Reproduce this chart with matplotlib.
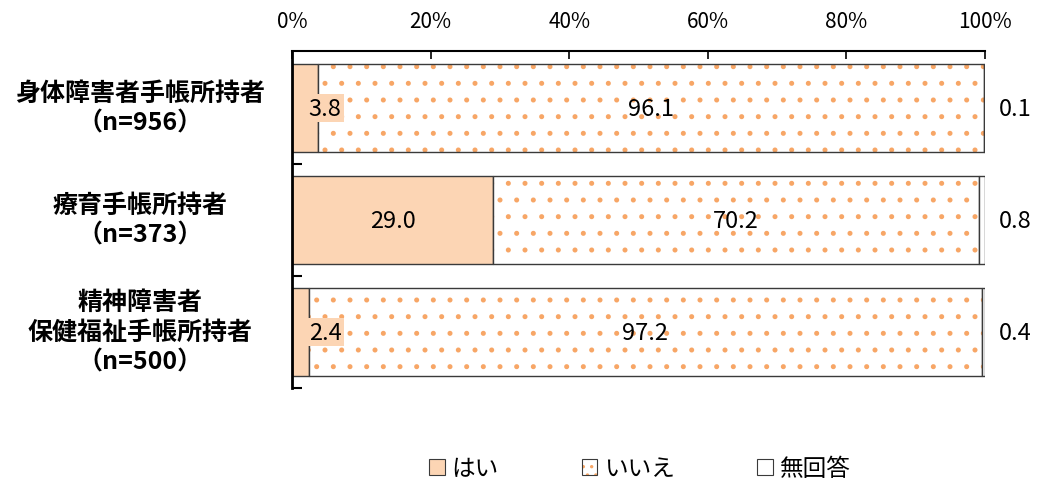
import matplotlib
matplotlib.use('Agg')
import matplotlib.pyplot as plt
import numpy as np
from matplotlib.patches import Patch

plt.rcParams['font.family'] = ['Noto Sans CJK JP', 'DejaVu Sans']
plt.rcParams['hatch.linewidth'] = 1.2

# data
groups = ['身体障害者手帳所持者\n（n=956）',
          '療育手帳所持者\n（n=373）',
          '精神障害者\n保健福祉手帳所持者\n（n=500）']
series = ['はい', 'いいえ', '無回答']
hai = [3.8, 29.0, 2.4]
iie = [96.1, 70.2, 97.2]
mukaito = [0.1, 0.8, 0.4]
xticks = [0, 20, 40, 60, 80, 100]

PEACH = '#FCD5B4'
DOT = '#F7A666'
EDGE = '#3a3a3a'

fig = plt.figure(figsize=(10.38, 4.85), dpi=100)
ax = fig.add_axes([292 / 1038, 1 - 389 / 485, (985 - 292) / 1038, (389 - 52) / 485])

y = np.arange(len(groups))
h = 0.78

# はい
ax.barh(y, hai, height=h, color=PEACH, edgecolor=EDGE, linewidth=1.0, zorder=2)
# いいえ: dotted fill, then outline
left2 = np.array(hai)
ax.barh(y, iie, left=left2, height=h, color='white', edgecolor=DOT, hatch='.',
        linewidth=0, zorder=2)
ax.barh(y, iie, left=left2, height=h, color='none', edgecolor=EDGE, linewidth=1.0, zorder=3)
# 無回答
left3 = left2 + np.array(iie)
ax.barh(y, mukaito, left=left3, height=h, color='white', edgecolor=EDGE, linewidth=1.0, zorder=3)

fs = 17
for i in range(len(groups)):
    xh = hai[i] / 2 if hai[i] >= 10 else 4.8
    ax.text(xh, y[i], f'{hai[i]:.1f}', ha='center', va='center', fontsize=fs, zorder=5,
            bbox=dict(boxstyle='square,pad=0.1', fc=PEACH, ec='none'))
    ax.text(hai[i] + iie[i] / 2, y[i], f'{iie[i]:.1f}', ha='center', va='center',
            fontsize=fs, zorder=5)
    ax.text(104.3, y[i], f'{mukaito[i]:.1f}', ha='center', va='center',
            fontsize=fs, zorder=5, clip_on=False)

ax.set_xlim(0, 100)
ax.set_ylim(2.5, -0.51)
ax.xaxis.tick_top()
ax.set_xticks(xticks)
ax.set_xticklabels([f'{v}%' for v in xticks])
ax.tick_params(axis='x', direction='in', length=6, width=1.2, pad=14, labelsize=15,
               colors='black', top=True, bottom=False)

ax.set_yticks([0.5, 1.5, 2.5])
ax.set_yticklabels([])
ax.tick_params(axis='y', direction='in', length=7, width=1.5, left=True)
for i, g in enumerate(groups):
    ax.text(-0.219, y[i], g, transform=ax.get_yaxis_transform(), ha='center', va='center',
            fontsize=18, fontweight='bold', linespacing=1.3)

ax.spines['right'].set_visible(False)
ax.spines['bottom'].set_visible(False)
ax.spines['top'].set_linewidth(1.5)
ax.spines['left'].set_linewidth(2.0)

h_hai = Patch(facecolor=PEACH, edgecolor=EDGE, linewidth=0.8)
h_iie = (Patch(facecolor='white', edgecolor=DOT, hatch='..', linewidth=0),
         Patch(facecolor='none', edgecolor=EDGE, linewidth=0.8))
h_mu = Patch(facecolor='white', edgecolor=EDGE, linewidth=0.8)
leg = fig.legend([h_hai, h_iie, h_mu], series, loc='center',
                 bbox_to_anchor=(640 / 1038, 1 - 470 / 485),
                 ncol=3, frameon=False, fontsize=17, handlelength=0.65, handleheight=0.65,
                 handletextpad=0.3, columnspacing=3.5)

plt.savefig('out.png', dpi=100)
